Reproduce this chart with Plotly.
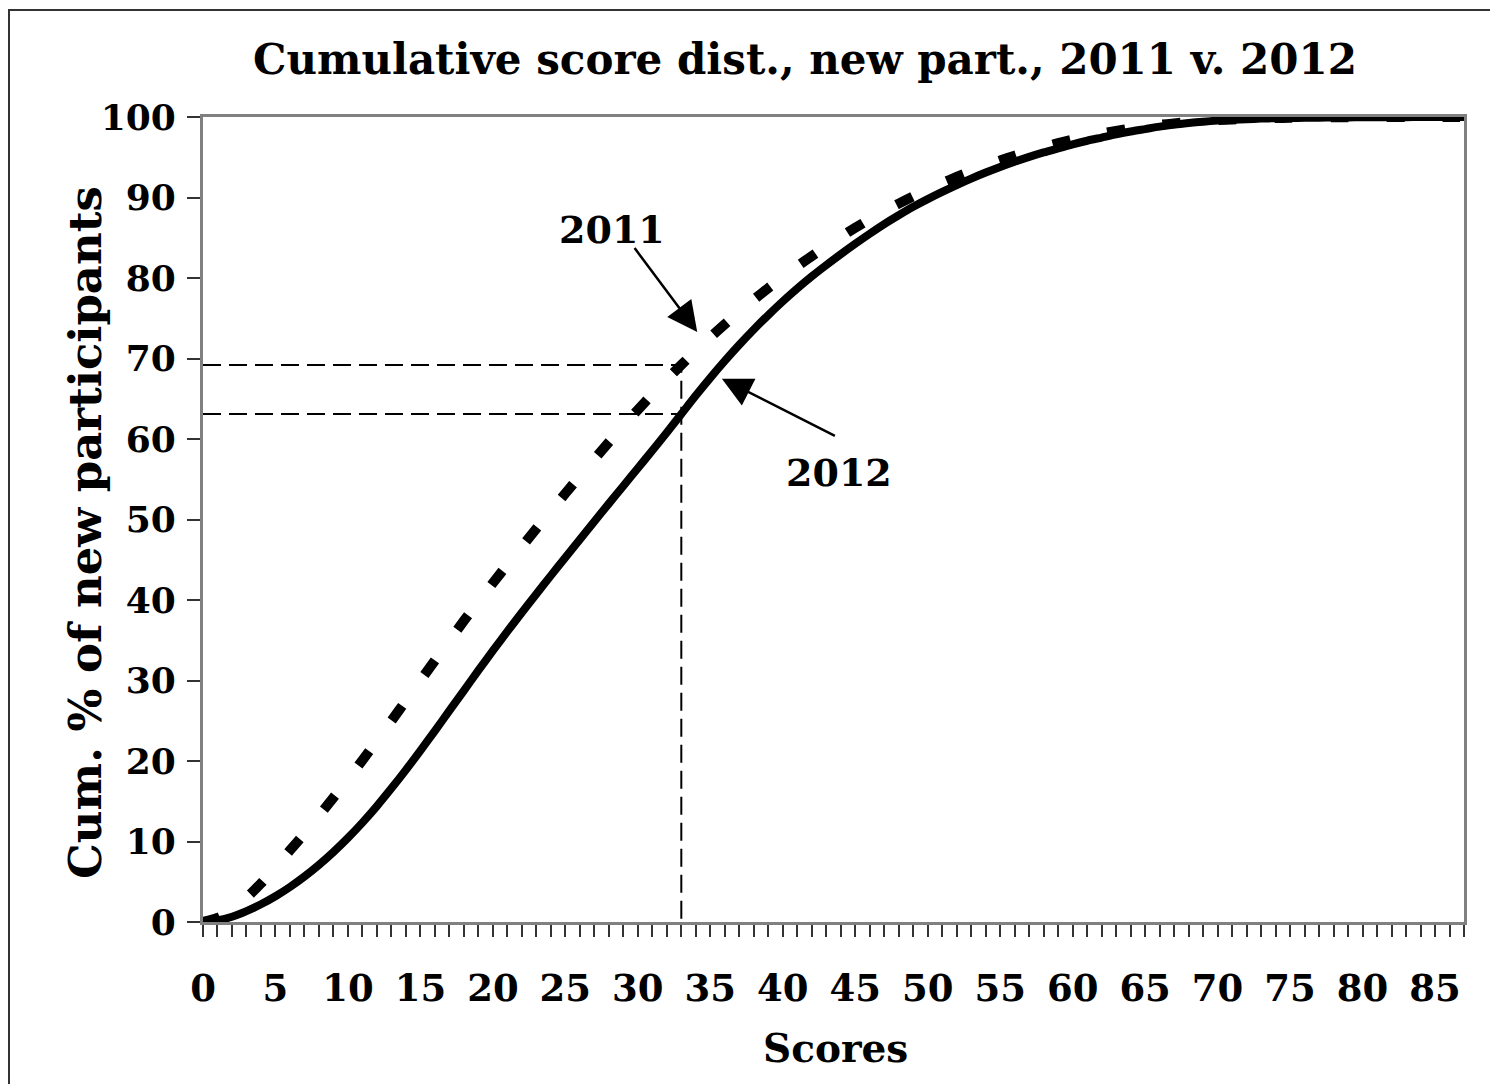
import plotly.graph_objects as go

scores = list(range(0, 88))

pct_2011 = [0, 0.5, 1.5, 3.0, 4.8, 6.8, 8.9, 11.0, 13.2, 15.45,
            17.75, 20.1, 22.52, 24.99, 27.49, 29.99, 32.49, 34.97, 37.41, 39.79,
            42.11, 44.39, 46.64, 48.87, 51.07, 53.24, 55.38, 57.5, 59.59, 61.63,
            63.62, 65.56, 67.42, 69.2, 70.95, 72.63, 74.25, 75.81, 77.31, 78.75,
            80.13, 81.45, 82.72, 83.94, 85.11, 86.23, 87.29, 88.29, 89.24, 90.14,
            90.99, 91.79, 92.55, 93.27, 93.95, 94.59, 95.19, 95.75, 96.27, 96.75,
            97.19, 97.59, 97.95, 98.27, 98.55, 98.8, 99.02, 99.21, 99.37, 99.5,
            99.61, 99.7, 99.77, 99.83, 99.87, 99.9, 99.92, 99.94, 99.96, 99.97,
            99.98, 99.98, 99.99, 99.99, 100, 100, 100, 100]

pct_2012 = [0, 0.2, 0.65, 1.35, 2.2, 3.2, 4.35, 5.65, 7.1, 8.7,
            10.45, 12.35, 14.4, 16.6, 18.9, 21.3, 23.75, 26.25, 28.75, 31.25,
            33.7, 36.1, 38.45, 40.75, 43.03, 45.28, 47.52, 49.75, 51.97, 54.17,
            56.37, 58.57, 60.8, 63.1, 65.4, 67.6, 69.7, 71.7, 73.6, 75.4,
            77.1, 78.7, 80.2, 81.6, 82.95, 84.25, 85.5, 86.7, 87.8, 88.85,
            89.8, 90.7, 91.55, 92.35, 93.1, 93.8, 94.45, 95.05, 95.6, 96.1,
            96.6, 97.05, 97.45, 97.85, 98.2, 98.5, 98.8, 99.05, 99.25, 99.42,
            99.55, 99.65, 99.73, 99.8, 99.85, 99.88, 99.9, 99.92, 99.94, 99.95,
            99.96, 99.97, 99.98, 99.98, 99.99, 99.99, 100, 100]

cutoff = 33
x_ticks = list(range(0, 88))
x_ticktext = [str(v) if v % 5 == 0 else "" for v in x_ticks]
y_ticks = list(range(0, 101, 10))

FONT = "DejaVu Serif"

fig = go.Figure()

# reference lines at the cutoff score
fig.add_trace(go.Scatter(x=[0, cutoff, cutoff], y=[pct_2011[cutoff], pct_2011[cutoff], 0],
                         mode="lines", line=dict(color="black", width=2, dash="18px,8px"),
                         hoverinfo="skip", showlegend=False))
fig.add_trace(go.Scatter(x=[0, cutoff], y=[pct_2012[cutoff], pct_2012[cutoff]],
                         mode="lines", line=dict(color="black", width=2, dash="18px,8px"),
                         hoverinfo="skip", showlegend=False))

fig.add_trace(go.Scatter(x=scores, y=pct_2012, mode="lines", name="2012",
                         line=dict(color="black", width=8, shape="spline", smoothing=0.8),
                         showlegend=False))
fig.add_trace(go.Scatter(x=scores, y=pct_2011, mode="lines", name="2011",
                         line=dict(color="black", width=10, dash="18px,38px", shape="spline",
                                   smoothing=0.8),
                         showlegend=False))

OFF = 8  # page body margin
W, H = 1482, 1076
L, R, T, B = 195, 26, 109, 162
pw, ph = W - L - R, H - T - B


def px(xs):
    return (xs - OFF - L) / pw


def py(ys):
    return (H - B - (ys - OFF)) / ph


annos = [
    dict(text="Cumulative score dist., new part., 2011 v. 2012", x=px(805), y=py(60),
         xref="paper", yref="paper", showarrow=False, xanchor="center", yanchor="middle",
         font=dict(size=42, family=FONT, color="black", weight="bold")),
    dict(text="Cum. % of new participants", x=px(85), y=py(533), textangle=-90,
         xref="paper", yref="paper", showarrow=False, xanchor="center", yanchor="middle",
         font=dict(size=45, family=FONT, color="black", weight="bold")),
    dict(text="Scores", x=px(835), y=py(1048),
         xref="paper", yref="paper", showarrow=False, xanchor="center", yanchor="middle",
         font=dict(size=39, family=FONT, color="black", weight="bold")),
    dict(text="2011", x=28.2, y=86.0, xref="x", yref="y", showarrow=False,
         font=dict(size=38, family=FONT, color="black", weight="bold")),
    dict(text="2012", x=43.9, y=55.8, xref="x", yref="y", showarrow=False,
         font=dict(size=38, family=FONT, color="black", weight="bold")),
    dict(text="", x=34.1, y=73.3, ax=29.7, ay=83.9, xref="x", yref="y", axref="x", ayref="y",
         showarrow=True, arrowhead=2, arrowsize=2.4, arrowwidth=2.5, arrowcolor="black"),
    dict(text="", x=35.8, y=67.5, ax=43.7, ay=60.3, xref="x", yref="y", axref="x", ayref="y",
         showarrow=True, arrowhead=2, arrowsize=2.4, arrowwidth=2.5, arrowcolor="black"),
]

fig.update_layout(
    width=W, height=H,
    margin=dict(l=L, r=R, t=T, b=B, pad=0),
    paper_bgcolor="white", plot_bgcolor="white",
    annotations=annos,
    shapes=[
        dict(type="line", xref="paper", yref="paper", x0=px(8), x1=px(1520), y0=py(10), y1=py(10),
             line=dict(color="#333333", width=2)),
        dict(type="line", xref="paper", yref="paper", x0=px(9), x1=px(9), y0=py(10), y1=py(1120),
             line=dict(color="#333333", width=2)),
    ],
    font=dict(family=FONT, color="black"),
)

fig.update_xaxes(range=[0, 87], tickmode="array", tickvals=x_ticks, ticktext=x_ticktext,
                 ticks="outside", ticklen=12, tickwidth=1.5, tickcolor="#333333",
                 showline=True, linecolor="#808080", linewidth=3, mirror=True,
                 showgrid=False, zeroline=False, ticklabelstandoff=20,
                 tickfont=dict(size=37, family=FONT, color="black", weight="bold"))
fig.update_yaxes(range=[0, 100], tickmode="array", tickvals=y_ticks,
                 ticks="outside", ticklen=13, tickwidth=1.5, tickcolor="#333333",
                 showline=True, linecolor="#808080", linewidth=3, mirror=True,
                 showgrid=False, zeroline=False, ticklabelstandoff=4,
                 tickfont=dict(size=36, family=FONT, color="black", weight="bold"))

fig.write_html("out.html")
